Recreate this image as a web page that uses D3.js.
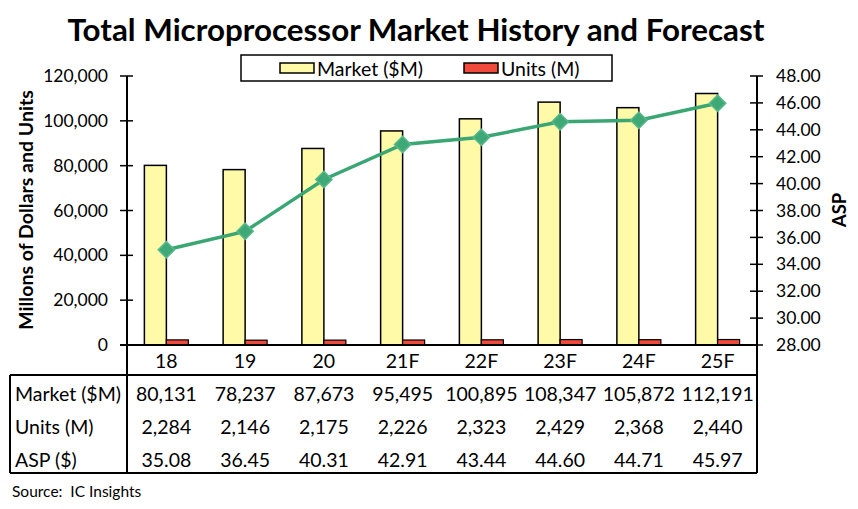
<!DOCTYPE html>
<html>
<head>
<meta charset="utf-8">
<script src="https://cdn.jsdelivr.net/npm/d3@7"></script>
<style>
  body { margin: 0; background: #fff; }
  text { font-family: Lato, "Open Sans", sans-serif; fill: #000; }
</style>
</head>
<body>
<script>
// data
var years = ["18", "19", "20", "21F", "22F", "23F", "24F", "25F"];
var market = [80131, 78237, 87673, 95495, 100895, 108347, 105872, 112191];
var units = [2284, 2146, 2175, 2226, 2323, 2429, 2368, 2440];
var asp = [35.08, 36.45, 40.31, 42.91, 43.44, 44.60, 44.71, 45.97];
var leftTicks = [0, 20000, 40000, 60000, 80000, 100000, 120000];
var rightTicks = [28, 30, 32, 34, 36, 38, 40, 42, 44, 46, 48];
var rowNames = ["Market ($M)", "Units (M)", "ASP ($)"];

var width = 858, height = 509;
var x0 = 127, x1 = 757, yTop = 76, yBase = 345;
var fs = 19.5;

var svg = d3.select("body").append("svg")
    .attr("width", width)
    .attr("height", height);

var x = d3.scaleBand().domain(years).range([x0, x1]);
var yL = d3.scaleLinear().domain([0, 120000]).range([yBase, yTop]);
var yR = d3.scaleLinear().domain([28, 48]).range([yBase, yTop]);
var barW = 22;

// title, sized to the width it has in the picture
var title = svg.append("text")
    .attr("x", 416).attr("y", 41)
    .attr("text-anchor", "middle")
    .attr("font-weight", "bold")
    .attr("font-size", 30)
    .text("Total Microprocessor Market History and Forecast");
var tw = title.node().getComputedTextLength();
title.attr("font-size", 30 * 697 / tw);

// bars
svg.selectAll(".mkt").data(market).enter().append("rect")
    .attr("class", "mkt")
    .attr("x", (d, i) => x(years[i]) + x.bandwidth() / 2 - barW)
    .attr("y", d => yL(d))
    .attr("width", barW)
    .attr("height", d => yBase - yL(d))
    .attr("fill", "#fffaa8")
    .attr("stroke", "#000")
    .attr("stroke-width", 1.5);

svg.selectAll(".unit").data(units).enter().append("rect")
    .attr("class", "unit")
    .attr("x", (d, i) => x(years[i]) + x.bandwidth() / 2)
    .attr("y", d => yL(d))
    .attr("width", barW)
    .attr("height", d => yBase - yL(d))
    .attr("fill", "#ef4a3c")
    .attr("stroke", "#000")
    .attr("stroke-width", 1.2);

// ASP line
var line = d3.line()
    .x((d, i) => x(years[i]) + x.bandwidth() / 2)
    .y(d => yR(d));
svg.append("path")
    .datum(asp)
    .attr("d", line)
    .attr("fill", "none")
    .attr("stroke", "#3aa673")
    .attr("stroke-width", 3.5);
svg.selectAll(".pt").data(asp).enter().append("path")
    .attr("class", "pt")
    .attr("d", d3.symbol(d3.symbolDiamond2, 170))
    .attr("transform", (d, i) => `translate(${x(years[i]) + x.bandwidth() / 2},${yR(d)})`)
    .attr("fill", "#3fa877")
    .attr("stroke", "#5ab98c")
    .attr("stroke-width", 1.5);

// left axis
var left = svg.append("g")
    .attr("transform", `translate(${x0},0)`)
    .call(d3.axisLeft(yL).tickValues(leftTicks).tickFormat(d3.format(",")).tickSize(0).tickPadding(19));
left.select(".domain").remove();
left.selectAll("text").attr("font-size", 17.5).style("font-family", "Lato");
svg.selectAll(".ltick").data(leftTicks).enter().append("line")
    .attr("x1", x0 - 7).attr("x2", x0 + 6)
    .attr("y1", d => yL(d)).attr("y2", d => yL(d))
    .attr("stroke", "#000").attr("stroke-width", 1.5);

// right axis
var right = svg.append("g")
    .attr("transform", `translate(${x1},0)`)
    .call(d3.axisRight(yR).tickValues(rightTicks).tickFormat(d3.format(".2f")).tickSize(0).tickPadding(19));
right.select(".domain").remove();
right.selectAll("text").attr("font-size", 17.5).style("font-family", "Lato");
svg.selectAll(".rtick").data(rightTicks).enter().append("line")
    .attr("x1", x1 - 7).attr("x2", x1 + 6)
    .attr("y1", d => yR(d)).attr("y2", d => yR(d))
    .attr("stroke", "#000").attr("stroke-width", 1.5);

// axis titles
svg.append("text")
    .attr("transform", "translate(33,210) rotate(-90)")
    .attr("text-anchor", "middle")
    .attr("font-weight", "bold")
    .attr("font-size", 19.5)
    .text("Millons of Dollars and Units");
svg.append("text")
    .attr("transform", "translate(846,210) rotate(-90)")
    .attr("text-anchor", "middle")
    .attr("font-weight", "bold")
    .attr("font-size", 18.5)
    .text("ASP");

// frame lines: axes and data table
var tTop = 375, tBot = 473, tLeft = 10;
var lines = [
  [x0, yTop, x0, tBot],
  [x1, yTop, x1, tBot],
  [x0 - 7, yBase, x1, yBase],
  [tLeft, tTop, x1, tTop],
  [tLeft, tBot, x1, tBot],
  [tLeft, tTop, tLeft, tBot]
];
svg.selectAll(".frame").data(lines).enter().append("line")
    .attr("x1", d => d[0]).attr("y1", d => d[1])
    .attr("x2", d => d[2]).attr("y2", d => d[3])
    .attr("stroke", "#000").attr("stroke-width", 2);

// category labels
svg.selectAll(".cat").data(years).enter().append("text")
    .attr("x", d => x(d) + x.bandwidth() / 2)
    .attr("y", 368)
    .attr("text-anchor", "middle")
    .attr("font-size", fs)
    .text(d => d);

// table rows
var rows = [market.map(d3.format(",")), units.map(d3.format(",")), asp.map(d3.format(".2f"))];
var rowY = [401, 434, 467];
rows.forEach(function(r, j) {
  svg.append("text")
    .attr("x", 15).attr("y", rowY[j])
    .attr("font-size", fs)
    .text(rowNames[j]);
  svg.selectAll(".r" + j).data(r).enter().append("text")
    .attr("x", (d, i) => x(years[i]) + x.bandwidth() / 2)
    .attr("y", rowY[j])
    .attr("text-anchor", "middle")
    .attr("font-size", fs)
    .text(d => d);
});

// legend
var lg = svg.append("g");
lg.append("rect")
    .attr("x", 241).attr("y", 55).attr("width", 371).attr("height", 26)
    .attr("fill", "#fff").attr("stroke", "#000").attr("stroke-width", 1.5);
var items = [["Market ($M)", "#fffaa8", 280], ["Units (M)", "#ef4a3c", 464]];
items.forEach(function(it) {
  lg.append("rect")
    .attr("x", it[2]).attr("y", 63).attr("width", 34).attr("height", 10)
    .attr("fill", it[1]).attr("stroke", "#000").attr("stroke-width", 1.5);
  lg.append("text")
    .attr("x", it[2] + 37).attr("y", 75.5)
    .attr("font-size", fs)
    .text(it[0]);
});

// source
svg.append("text")
    .attr("x", 12).attr("y", 497)
    .attr("font-size", 15.5)
    .style("white-space", "pre")
    .text("Source:  IC Insights");
</script>
</body>
</html>
